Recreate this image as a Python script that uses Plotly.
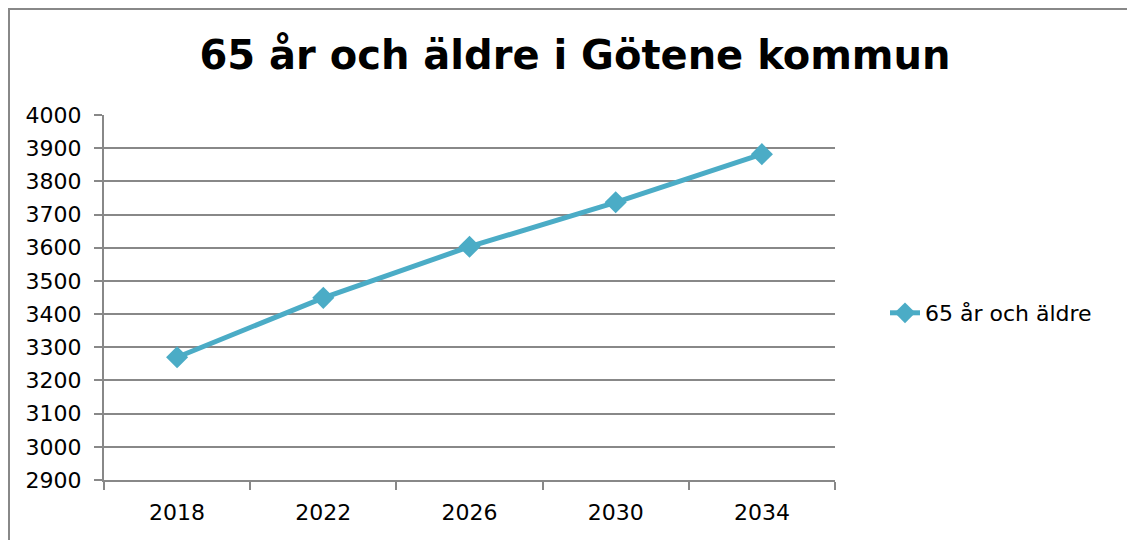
import plotly.graph_objects as go

years = ["2018", "2022", "2026", "2030", "2034"]
values = [3270, 3449, 3603, 3737, 3882]
series_name = "65 år och äldre"
title_text = "65 år och äldre i Götene kommun"

OFF = 8  # page body margin
W, H = 1135 - OFF, 540 - OFF
# plot area in screen pixels: x 104..835, y 115..480
L = 104 - OFF
T = 115 - OFF
R = W - (835 - OFF)
B = H - (480 - OFF)
pw = W - L - R
ph = H - T - B


def px_x(x):
    return (x - OFF - L) / pw


def px_y(y):
    return (H - B - (y - OFF)) / ph


color = "#4BACC6"
grid = "#888888"
font = "DejaVu Sans"

fig = go.Figure()
fig.add_trace(go.Scatter(
    x=years, y=values, name=series_name, mode="lines+markers",
    line=dict(color=color, width=5),
    marker=dict(symbol="diamond", size=17, color=color),
))

fig.update_layout(
    width=W, height=H,
    margin=dict(l=L, r=R, t=T, b=B),
    paper_bgcolor="white", plot_bgcolor="white",
    title=dict(text="<b>" + title_text + "</b>",
               x=(575 - OFF) / W, xref="container", xanchor="center",
               y=(H - (55 - OFF)) / H, yref="container", yanchor="middle",
               font=dict(family=font, size=40, color="black")),
    font=dict(family=font, size=22, color="black"),
    showlegend=True,
    legend=dict(x=px_x(885), y=px_y(313), xanchor="left", yanchor="middle",
                font=dict(family=font, size=22, color="black"),
                bgcolor="rgba(0,0,0,0)"),
    xaxis=dict(type="category", tickson="boundaries", showgrid=False,
               range=[-0.5, len(years) - 0.5],
               showline=True, linecolor=grid, linewidth=2,
               ticks="outside", ticklen=8, tickcolor=grid, tickwidth=2,
               ticklabelstandoff=12,
               tickfont=dict(family=font, size=22)),
    yaxis=dict(range=[2900, 4000], dtick=100, tick0=2900,
               showgrid=True, gridcolor=grid, gridwidth=2,
               showline=True, linecolor=grid, linewidth=2,
               ticks="outside", ticklen=8, tickcolor=grid, tickwidth=2,
               ticklabelstandoff=8,
               tickfont=dict(family=font, size=22), zeroline=False),
    shapes=[dict(type="rect", xref="paper", yref="paper",
                 x0=px_x(9), x1=px_x(1133), y0=px_y(600), y1=px_y(9),
                 line=dict(color=grid, width=2), fillcolor="rgba(0,0,0,0)")],
)

fig.write_html("out.html")
